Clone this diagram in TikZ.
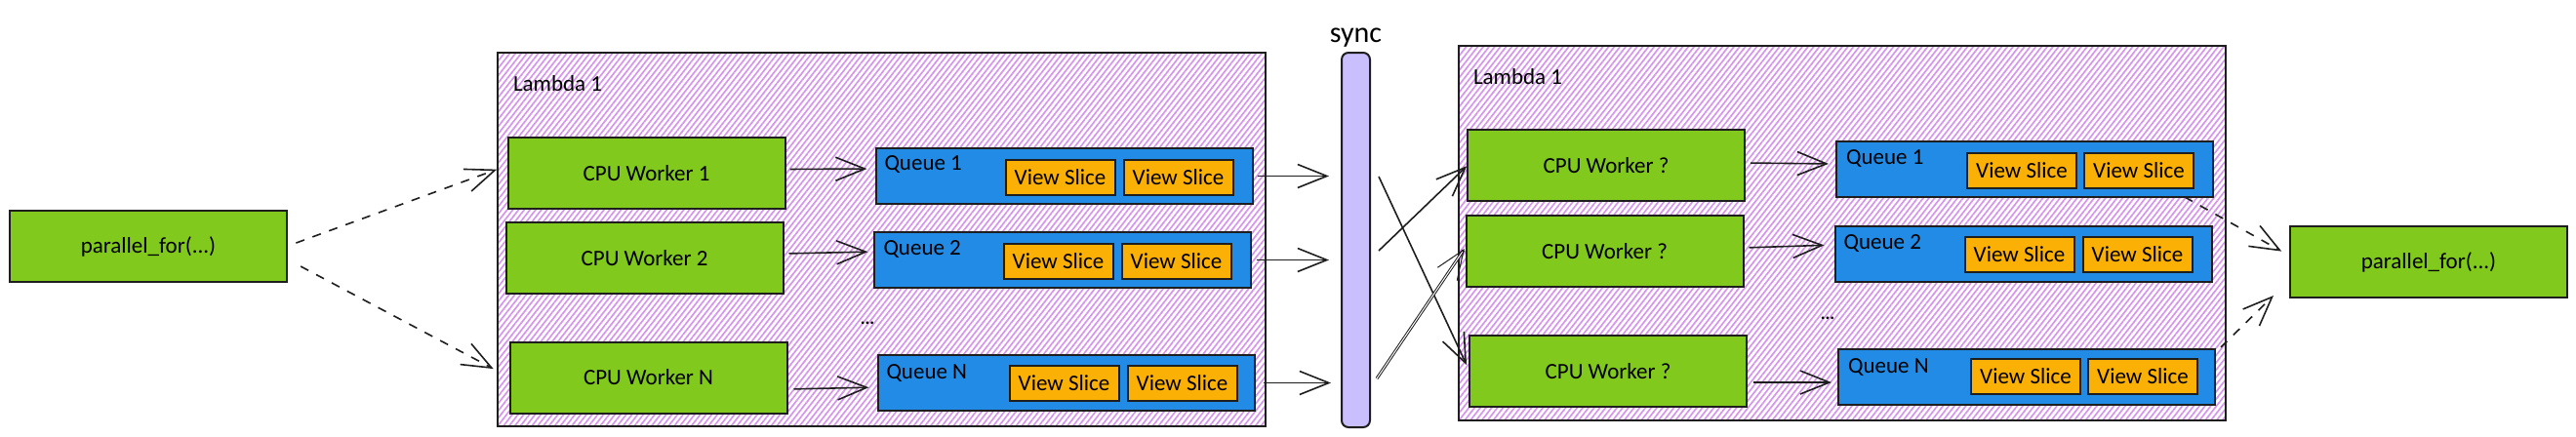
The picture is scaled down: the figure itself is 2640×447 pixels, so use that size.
\documentclass[tikz,border=0pt]{standalone}
\usepackage{fontspec}
\setmainfont{Carlito}
\usetikzlibrary{arrows.meta, positioning, patterns.meta}
\definecolor{limefill}{HTML}{82C91E}
\definecolor{queuefill}{HTML}{228BE6}
\definecolor{slicefill}{HTML}{FAB005}
\definecolor{syncfill}{HTML}{CABFFD}
\definecolor{hatchline}{HTML}{D694EC}
\definecolor{inkline}{HTML}{1E1E1E}
\tikzset{
    box/.style={draw=inkline, line width=1pt, outer sep=0pt, inner sep=0pt, font=\fontsize{11.5}{13}\selectfont},
    workerbox/.style={box, fill=limefill, minimum width=142pt, minimum height=36.5pt},
    queuebox/.style={box, fill=queuefill, minimum width=193pt, minimum height=28.5pt},
    slicebox/.style={box, fill=slicefill, minimum width=56pt, minimum height=18pt},
    lambdabox/.style={box, pattern={Lines[angle=52, distance=2.3pt, line width=0.85pt]}, pattern color=hatchline},
    syncbar/.style={box, fill=syncfill, rounded corners=3.5pt, minimum width=14.5pt, minimum height=192pt},
    caption/.style={inner sep=0pt, outer sep=0pt, font=\fontsize{11.5}{13}\selectfont},
    flow/.style={draw=inkline, line width=0.8pt, -{Straight Barb[length=15pt, width=12pt]}},
    dashflow/.style={flow, dash pattern=on 4.5pt off 4.5pt},
}
\begin{document}
\begin{tikzpicture}[x=0.5pt, y=-0.5pt]
    \useasboundingbox (0,0) rectangle (2640,447);

    \node[workerbox] (pf1) at (152,252.5) {parallel\_for(...)};
    \node[workerbox] (pf2) at (2489,268.5) {parallel\_for(...)};

    % left lambda
    \node[lambdabox, minimum width=393.5pt, minimum height=191.5pt] (lam1) at (903.5,245.5) {};
    \node[caption, anchor=west] (lam1t) at ([xshift=8pt, yshift=-16pt]lam1.north west) {Lambda 1};

    \node[workerbox] (w1) at (662.5,177.5) {CPU Worker 1};
    \node[workerbox] (w2) at (660.5,264.5) {CPU Worker 2};
    \node[workerbox] (w3) at (664.5,387) {CPU Worker N};

    \node[queuebox, right=46.5pt of w1, yshift=-1.5pt] (q1) {};
    \node[queuebox, right=46.5pt of w2, yshift=-1pt] (q2) {};
    \node[queuebox, right=46.5pt of w3, yshift=-2.75pt] (q3) {};
    \node[caption, anchor=west] (q1t) at ([xshift=4.5pt, yshift=5.75pt]q1.west) {Queue 1};
    \node[caption, anchor=west] (q2t) at ([xshift=5pt, yshift=5.25pt]q2.west) {Queue 2};
    \node[caption, anchor=west] (q3t) at ([xshift=4.5pt, yshift=4.75pt]q3.west) {Queue N};

    \node[slicebox, left=10pt of q1.east, yshift=-0.75pt] (v12) {View Slice};
    \node[slicebox, left=4.5pt of v12] (v11) {View Slice};
    \node[slicebox, left=10pt of q2.east, yshift=-0.75pt] (v22) {View Slice};
    \node[slicebox, left=4.5pt of v22] (v21) {View Slice};
    \node[slicebox, left=9pt of q3.east] (v32) {View Slice};
    \node[slicebox, left=4.5pt of v32] (v31) {View Slice};
    \node[caption, font=\fontsize{9}{10}\selectfont\bfseries] (dots1) at (889,331) {...};

    % sync
    \node[syncbar] (bar) at (1389.5,246) {};
    \node[caption, font=\fontsize{15}{17}\selectfont, above=3pt of bar] (synct) {sync};

    % right lambda
    \node[lambdabox, minimum width=393pt, minimum height=192pt] (lam2) at (1888,239) {};
    \node[caption, anchor=west] (lam2t) at ([xshift=7.5pt, yshift=-16pt]lam2.north west) {Lambda 1};

    \node[workerbox] (r1) at (1646,169.5) {CPU Worker ?};
    \node[workerbox] (r2) at (1644.5,257.5) {CPU Worker ?};
    \node[workerbox] (r3) at (1648,380.5) {CPU Worker ?};

    \node[queuebox, right=47pt of r1, yshift=-2pt] (s1) {};
    \node[queuebox, right=47pt of r2, yshift=-1.25pt] (s2) {};
    \node[queuebox, right=47pt of r3, yshift=-3pt] (s3) {};
    \node[caption, anchor=west] (s1t) at ([xshift=5pt, yshift=5.25pt]s1.west) {Queue 1};
    \node[caption, anchor=west] (s2t) at ([xshift=4.5pt, yshift=5pt]s2.west) {Queue 2};
    \node[caption, anchor=west] (s3t) at ([xshift=5pt, yshift=4.75pt]s3.west) {Queue N};

    \node[slicebox, left=10pt of s1.east, yshift=-0.75pt] (u12) {View Slice};
    \node[slicebox, left=4pt of u12] (u11) {View Slice};
    \node[slicebox, left=10pt of s2.east, yshift=-0.5pt] (u22) {View Slice};
    \node[slicebox, left=4.5pt of u22] (u21) {View Slice};
    \node[slicebox, left=9pt of s3.east, yshift=0.5pt] (u32) {View Slice};
    \node[slicebox, left=4pt of u32] (u31) {View Slice};
    \node[caption, font=\fontsize{9}{10}\selectfont\bfseries] (dots2) at (1873,326) {...};

    \coordinate (synca) at (1413,257);
    \coordinate (syncb) at (1413,181);
    \coordinate (syncc) at (1411,388);

    \draw[dashflow, shorten <=5pt, shorten >=6pt] (pf1.east) -- ([yshift=4pt]w1.west);
    \draw[dashflow, shorten <=8pt, shorten >=9.5pt] ([yshift=-6.5pt]pf1.east) -- (w3.west);

    \draw[flow, shorten <=2.5pt, shorten >=4.5pt] ([yshift=2pt]w1.east) -- ([yshift=3.75pt]q1.west);
    \draw[flow, shorten <=3pt, shorten >=3pt] ([yshift=2.25pt]w2.east) -- ([yshift=4.25pt]q2.west);
    \draw[flow, shorten <=3.5pt, shorten >=4.5pt] ([yshift=-6pt]w3.east) -- ([yshift=-2.25pt]q3.west);

    \draw[flow, shorten <=2.5pt, shorten >=6.5pt] (q1.east) -- (q1.east -| bar.west);
    \draw[flow, shorten <=3pt, shorten >=6.5pt] (q2.east) -- (q2.east -| bar.west);
    \draw[flow, shorten <=4.5pt, shorten >=5.5pt] (q3.east) -- (q3.east -| bar.west);

    \draw[flow, shorten >=0.5pt] (synca) -- (r1.west);
    \draw[flow, shorten >=3.5pt] (syncb) -- (r3.west);
    \draw[flow, line width=0.5pt, double=white, double distance=0.5pt, shorten >=1.5pt] (syncc) -- ([yshift=2.5pt]r2.west);

    \draw[flow, shorten <=3pt, shorten >=4pt] ([yshift=1.25pt]r1.east) -- ([yshift=2.75pt]s1.west);
    \draw[flow, shorten <=3pt, shorten >=5.5pt] ([yshift=1.75pt]r2.east) -- ([yshift=4.5pt]s2.west);
    \draw[flow, shorten <=3.5pt, shorten >=3.5pt] ([yshift=-5.75pt]r3.east) -- ([yshift=-2.75pt]s3.west);

    \draw[dashflow, shorten >=5pt] ([xshift=82pt]s1.south) -- ([yshift=3pt]pf2.west);
    \draw[dashflow] ([xshift=3pt, yshift=1pt]s3.north east) -- ([xshift=-8.5pt, yshift=1pt]pf2.south west);
\end{tikzpicture}
\end{document}
